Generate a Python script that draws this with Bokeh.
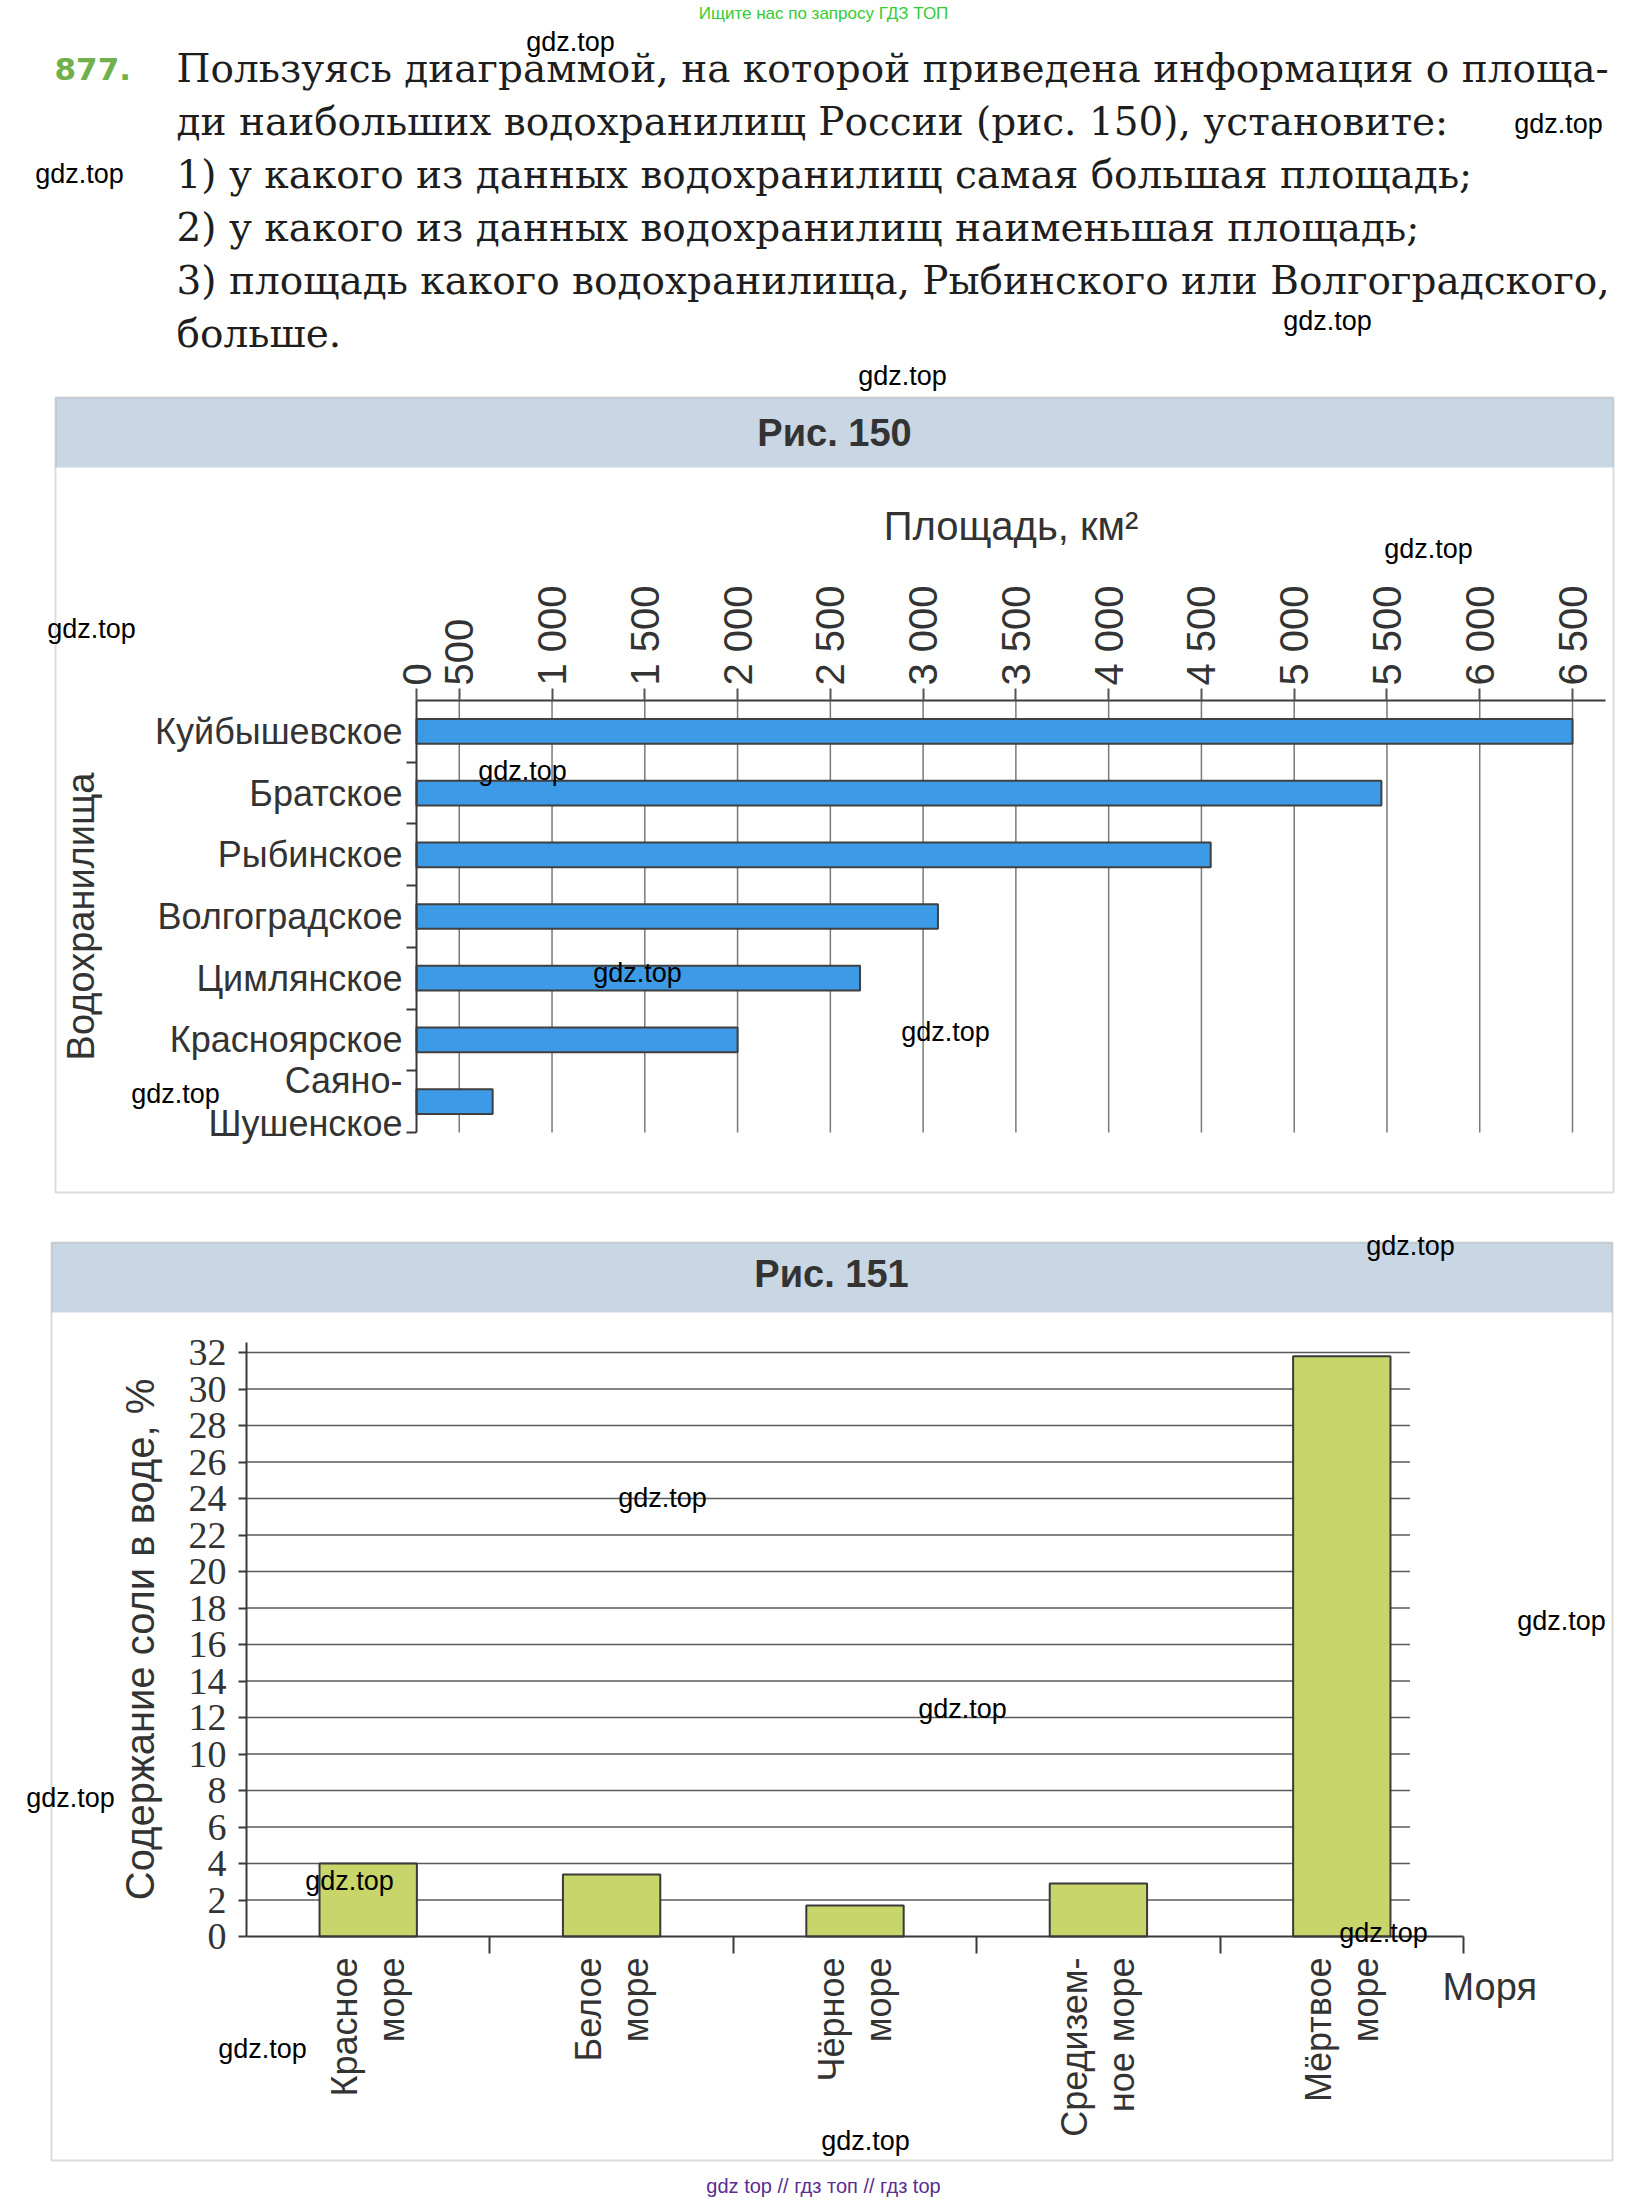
import math
from bokeh.plotting import figure
from bokeh.models import Range1d, FixedTicker, Label, BoxAnnotation, ColumnDataSource, LinearAxis
from bokeh.layouts import column
from bokeh.embed import file_html
from bokeh.resources import INLINE

# ---------------- data ----------------
task_number = "877."
task_lines = [
    "Пользуясь диаграммой, на которой приведена информация о площа-",
    "ди наибольших водохранилищ России (рис. 150), установите:",
    "1) у какого из данных водохранилищ самая большая площадь;",
    "2) у какого из данных водохранилищ наименьшая площадь;",
    "3) площадь какого водохранилища, Рыбинского или Волгоградского,",
    "больше.",
]
reservoirs = ["Куйбышевское", "Братское", "Рыбинское", "Волгоградское",
              "Цимлянское", "Красноярское", "Саяно-\nШушенское"]
areas = [6500, 5470, 4550, 3080, 2660, 2000, 680]
area_ticks = [500, 1000, 1500, 2000, 2500, 3000, 3500, 4000, 4500, 5000, 5500, 6000, 6500]
area_tick_labels = ["500", "1 000", "1 500", "2 000", "2 500", "3 000", "3 500",
                    "4 000", "4 500", "5 000", "5 500", "6 000", "6 500"]

seas = ["Красное\nморе", "Белое\nморе", "Чёрное\nморе", "Средизем-\nное море", "Мёртвое\nморе"]
salinity = [4.0, 3.4, 1.7, 2.9, 31.8]
salinity_ticks = [0, 2, 4, 6, 8, 10, 12, 14, 16, 18, 20, 22, 24, 26, 28, 30, 32]

watermark = "gdz.top"
# watermark centres in page pixels
wm_pos = [(570, 41), (1558, 123), (79, 173), (1327, 320), (902, 375), (1428, 548),
          (91, 628), (522, 770), (637, 972), (945, 1031), (175, 1093), (1410, 1245),
          (662, 1497), (1561, 1620), (962, 1708), (70, 1797), (349, 1880),
          (1383, 1932), (262, 2048), (865, 2140)]

# ---------------- styles / layout (page pixels) ----------------
SANS = "Liberation Sans"
SERIF = "Liberation Serif"
TXT_SERIF = "DejaVu Serif"
DARK = "#333333"
AXIS = "#3a3a3a"
BAND = "#c9d6e4"
W = 1646
SPLIT = 1215          # page y where the second canvas starts
HA = SPLIT
HB = 2202 - SPLIT


def canvas_label(p, x, y, text, size, font=SANS, color=DARK, align="left",
                 baseline="alphabetic", angle=0, style="normal", level="annotation"):
    p.add_layout(Label(x=x, y=y, x_units="canvas", y_units="canvas", text=text,
                       text_font=font, text_font_size=size, text_color=color,
                       text_align=align, text_baseline=baseline, angle=angle,
                       text_font_style=style, level=level))


def canvas_box(p, l, r, t, b, fill=None, line=None, lw=2):
    p.add_layout(BoxAnnotation(left=l, right=r, top=t, bottom=b,
                               left_units="canvas", right_units="canvas",
                               top_units="canvas", bottom_units="canvas",
                               fill_color=fill, fill_alpha=1.0 if fill else 0.0,
                               line_color=line, line_width=lw))


def blank_figure(h, xr, yr):
    p = figure(width=W, height=h, x_range=xr, y_range=yr, title=None,
               x_axis_location=None, y_axis_location=None,
               output_backend="svg", toolbar_location=None, min_border=0)
    p.outline_line_color = None
    p.background_fill_color = "white"
    p.border_fill_color = "white"
    p.grid.visible = False
    return p


# ================= Figure A : text + Рис. 150 =================
A_AXIS_X = 416      # px of the left axis
A_AXIS_TOP = 700    # px of the top axis
A_AXIS_BOTTOM = 1132
A_ZERO_PX = 366     # px of value 0 on the drawing's area scale
A_FULL_PX = 1572    # px of 6500
A_RIGHT_PX = 1605   # end of top axis line
kx = (A_FULL_PX - A_ZERO_PX) / area_ticks[-1]
X0 = (A_AXIS_X - A_ZERO_PX) / kx
XEND = (A_RIGHT_PX - A_ZERO_PX) / kx
n = len(reservoirs)
ky = (A_AXIS_BOTTOM - A_AXIS_TOP) / n

pA = blank_figure(HA, Range1d(-A_ZERO_PX / kx, (W - A_ZERO_PX) / kx),
                  Range1d(-(HA - A_AXIS_BOTTOM) / ky, n + A_AXIS_TOP / ky))

# frame of Рис. 150
canvas_box(pA, 55, 1613, 397, 467, fill=BAND, line=None)
canvas_box(pA, 55, 1613, 397, 1192, fill=None, line="#8c8c8c", lw=2)

ypos = [n - i - 0.5 for i in range(n)]
pA.segment(x0=area_ticks, x1=area_ticks, y0=0, y1=n, line_color="#7a7a7a", line_width=1.5)
srcA = ColumnDataSource(dict(y=ypos, right=areas, name=reservoirs))
pA.hbar(y="y", left=X0, right="right", height=0.4, source=srcA,
        fill_color="#3d9ae6", line_color="#404040", line_width=2)

ov = {X0: "0"}
ov.update({t: l for t, l in zip(area_ticks, area_tick_labels)})
xa = LinearAxis(fixed_location=n, bounds=(X0, XEND),
                ticker=FixedTicker(ticks=[X0] + area_ticks, minor_ticks=[]))
xa.major_label_overrides = ov
xa.major_label_orientation = math.pi / 2
xa.major_label_text_font = SANS
xa.major_label_text_font_size = "40px"
xa.major_label_text_color = DARK
xa.major_label_standoff = 3
xa.major_tick_out = 12
xa.major_tick_in = 0
xa.minor_tick_out = 0
xa.major_tick_line_color = "#555555"
xa.major_tick_line_width = 2
xa.minor_tick_line_color = None
xa.axis_line_color = AXIS
xa.axis_line_width = 2
xa.axis_label = "Площадь, км²"
xa.axis_label_text_font = SANS
xa.axis_label_text_font_size = "40px"
xa.axis_label_text_font_style = "normal"
xa.axis_label_text_color = DARK
xa.axis_label_standoff = 34
pA.add_layout(xa, "above")

ya = LinearAxis(fixed_location=X0, bounds=(0, n),
                ticker=FixedTicker(ticks=ypos, minor_ticks=list(range(0, n))))
ya.major_label_overrides = {y: nm for y, nm in zip(ypos, reservoirs)}
ya.major_tick_line_color = None
ya.major_tick_out = 0
ya.major_tick_in = 0
ya.minor_tick_out = 10
ya.minor_tick_in = 0
ya.minor_tick_line_color = AXIS
ya.minor_tick_line_width = 2
ya.major_label_standoff = 4
ya.major_label_text_font = SANS
ya.major_label_text_font_size = "36px"
ya.major_label_text_color = DARK
ya.major_label_text_line_height = 1.05
ya.axis_line_color = AXIS
ya.axis_line_width = 2
ya.axis_label = "Водохранилища"
ya.axis_label_text_font = SANS
ya.axis_label_text_font_size = "38px"
ya.axis_label_text_font_style = "normal"
ya.axis_label_text_color = DARK
ya.axis_label_standoff = 50
pA.add_layout(ya, "left")

canvas_label(pA, 834, 432, "Рис. 150", "38px", style="bold", align="center", baseline="middle")

# task text
canvas_label(pA, 823, 13, "Ищите нас по запросу ГДЗ ТОП", "17px", font=SANS,
             color="#33cc33", align="center", baseline="middle")
canvas_label(pA, 54, 68, task_number, "31px", font="DejaVu Sans", style="bold", color="#72b04c")
for i, line in enumerate(task_lines):
    canvas_label(pA, 176, 68 + 53 * i, line, "39px", font=TXT_SERIF, color="#1e1e1e")

# ================= Figure B : Рис. 151 (y measured from SPLIT) =================
B_AXIS_X = 246
B_AXIS_Y = 721
B_RIGHT = 1463
B_TOP_TICK_PX = 137   # px of value 32
B_AXIS_TOP_PX = 127
GRID_END = 4.78       # gridlines stop short of the last band
ns = len(seas)
kxb = (B_RIGHT - B_AXIS_X) / ns
kyb = (B_AXIS_Y - B_TOP_TICK_PX) / salinity_ticks[-1]
YTOP = (B_AXIS_Y - B_AXIS_TOP_PX) / kyb

pB = blank_figure(HB, Range1d(-B_AXIS_X / kxb, (W - B_AXIS_X) / kxb),
                  Range1d(-(HB - B_AXIS_Y) / kyb, B_AXIS_Y / kyb))

canvas_box(pB, 51, 1612, 27, 97, fill=BAND, line=None)
canvas_box(pB, 51, 1612, 27, 945, fill=None, line="#8c8c8c", lw=2)

xpos = [i + 0.5 for i in range(ns)]
pB.segment(x0=0, x1=GRID_END, y0=salinity_ticks[1:], y1=salinity_ticks[1:],
           line_color="#5a5a5a", line_width=1.6)
srcB = ColumnDataSource(dict(x=xpos, top=salinity, name=seas))
pB.vbar(x="x", top="top", width=0.4, source=srcB,
        fill_color="#c7d56a", line_color="#3a3a3a", line_width=2)

yb = LinearAxis(fixed_location=0, bounds=(0, YTOP),
                ticker=FixedTicker(ticks=salinity_ticks, minor_ticks=[]))
yb.major_label_text_font = SERIF
yb.major_label_text_font_size = "38px"
yb.major_label_text_color = DARK
yb.major_label_standoff = 12
yb.major_tick_out = 8
yb.major_tick_in = 0
yb.minor_tick_out = 0
yb.major_tick_line_color = AXIS
yb.major_tick_line_width = 2
yb.minor_tick_line_color = None
yb.axis_line_color = AXIS
yb.axis_line_width = 2
yb.axis_label = "Содержание соли в воде, %"
yb.axis_label_text_font = SANS
yb.axis_label_text_font_size = "40px"
yb.axis_label_text_font_style = "normal"
yb.axis_label_text_color = DARK
yb.axis_label_standoff = 24
pB.add_layout(yb, "left")

xb = LinearAxis(fixed_location=0, bounds=(0, ns),
                ticker=FixedTicker(ticks=xpos, minor_ticks=list(range(1, ns + 1))))
xb.major_label_overrides = {x: nm for x, nm in zip(xpos, seas)}
xb.major_label_orientation = math.pi / 2
xb.major_label_text_font = SANS
xb.major_label_text_font_size = "36px"
xb.major_label_text_color = DARK
xb.major_label_text_line_height = 1.15
xb.major_label_standoff = 4
xb.major_tick_line_color = None
xb.major_tick_out = 0
xb.major_tick_in = 0
xb.minor_tick_out = 17
xb.minor_tick_in = 0
xb.minor_tick_line_color = AXIS
xb.minor_tick_line_width = 2
xb.axis_line_color = AXIS
xb.axis_line_width = 2
pB.add_layout(xb, "below")

canvas_label(pB, 831, 58, "Рис. 151", "38px", style="bold", align="center", baseline="middle")
canvas_label(pB, 1442, 771, "Моря", "38px")
canvas_label(pB, 823, 970, "gdz top // гдз топ // гдз top", "20px", font=SANS,
             color="#5a2d91", align="center", baseline="middle")

# watermarks
for (wx, wy) in wm_pos:
    if wy < SPLIT:
        canvas_label(pA, wx, wy, watermark, "27px", font=SANS, color="black",
                     align="center", baseline="middle", level="overlay")
    else:
        canvas_label(pB, wx, wy - SPLIT, watermark, "27px", font=SANS, color="black",
                     align="center", baseline="middle", level="overlay")

layout = column(pA, pB, spacing=0)
open("out.html", "w").write(file_html(layout, INLINE))
